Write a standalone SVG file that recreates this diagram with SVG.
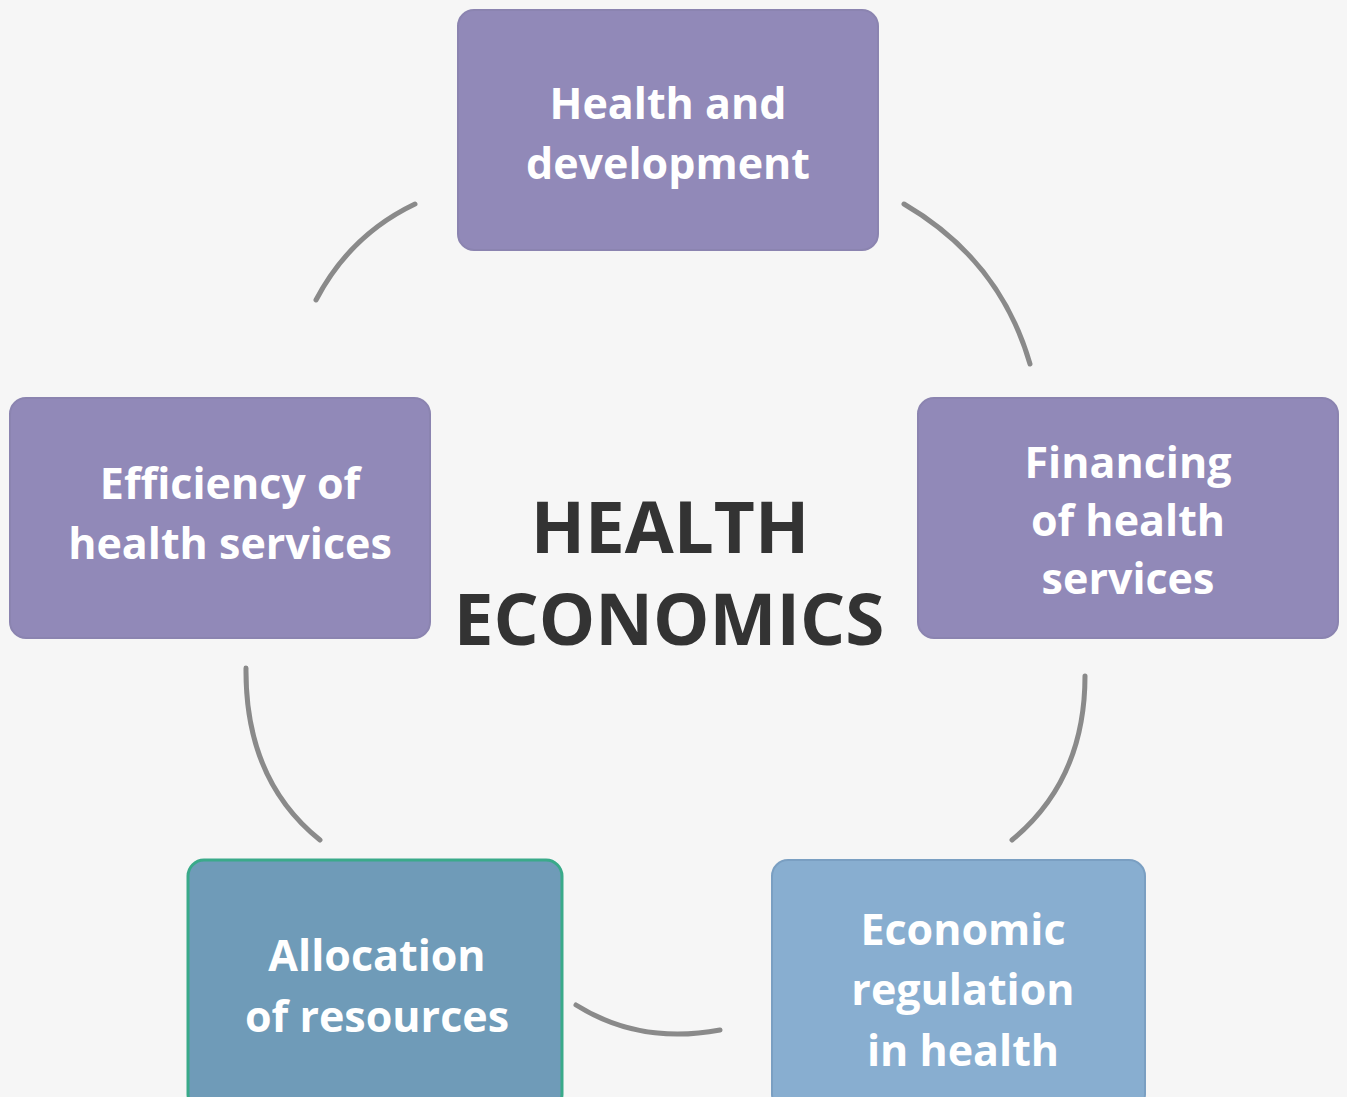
<svg xmlns="http://www.w3.org/2000/svg" width="1347" height="1097" viewBox="0 0 1347 1097">
<style>
.box{fill:#9189b8;stroke:#8b84b0;stroke-width:2}
.lbl{font-family:"Open Sans","Liberation Sans",sans-serif;font-weight:700;font-size:43px;fill:#ffffff;text-anchor:middle}
.title{font-family:"Open Sans","Liberation Sans",sans-serif;font-weight:700;font-size:71px;fill:#333333;text-anchor:middle}
.conn{fill:none;stroke:#8a8a8a;stroke-width:5;stroke-linecap:round}
</style>
<rect width="1347" height="1097" fill="#f6f6f6"/>
<g id="connectors">
<path class="conn" d="M415 204 Q350 235 316 300"/>
<path class="conn" d="M904 204 Q1000 260 1030 364"/>
<path class="conn" d="M246 668 Q245 780 320 840"/>
<path class="conn" d="M1085 676 Q1085 780 1012 840"/>
<path class="conn" d="M576 1005 Q640 1045 720 1030"/>
</g>
<g id="center">
<text class="title" x="670" y="553">HEALTH</text>
<text class="title" x="669" y="645">ECONOMICS</text>
</g>
<g id="node-top">
<rect class="box" x="458" y="10" width="420" height="240" rx="16"/>
<text class="lbl" x="668" y="119">Health and</text>
<text class="lbl" x="668" y="179">development</text>
</g>
<g id="node-left">
<rect class="box" x="10" y="398" width="420" height="240" rx="16"/>
<text class="lbl" x="230" y="499">Efficiency of</text>
<text class="lbl" x="230" y="559">health services</text>
</g>
<g id="node-right">
<rect class="box" x="918" y="398" width="420" height="240" rx="16"/>
<text class="lbl" x="1128" y="478">Financing</text>
<text class="lbl" x="1128" y="536">of health</text>
<text class="lbl" x="1128" y="594">services</text>
</g>
<g id="node-bottom-left">
<rect x="188" y="860" width="374" height="250" rx="16" fill="#6f9bb8" stroke="#3aaa8a" stroke-width="3"/>
<text class="lbl" x="377" y="971">Allocation</text>
<text class="lbl" x="377" y="1032">of resources</text>
</g>
<g id="node-bottom-right">
<rect x="772" y="860" width="373" height="250" rx="16" fill="#88aed0" stroke="#7a9fc2" stroke-width="2"/>
<text class="lbl" x="963" y="945">Economic</text>
<text class="lbl" x="963" y="1005">regulation</text>
<text class="lbl" x="963" y="1066">in health</text>
</g>
</svg>
